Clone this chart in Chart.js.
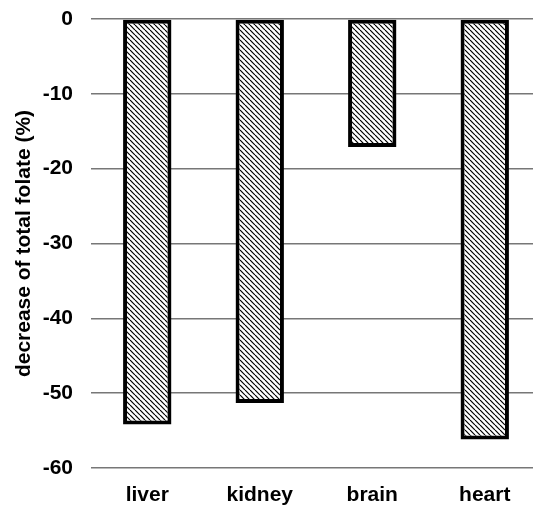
<!DOCTYPE html>
<html>
<head>
<meta charset="utf-8">
<script src="https://cdn.jsdelivr.net/npm/chart.js@4"></script>
<style>
  html, body { margin: 0; padding: 0; background: #fff; overflow: hidden; }
  #wrap { width: 541px; height: 509px; }
</style>
</head>
<body>
<div id="wrap"><canvas id="barChart"></canvas></div>
<script>
const organs = ['liver', 'kidney', 'brain', 'heart'];
const folateDecrease = [-54.2, -51.3, -17.1, -56.2];
const yMin = -60;
const yMax = 0;
const yStep = 10;

// backslash hatching like the original figure
function makeHatch() {
    const size = 5;
    const c = document.createElement('canvas');
    c.width = size;
    c.height = size;
    const g = c.getContext('2d');
    g.fillStyle = '#fff';
    g.fillRect(0, 0, size, size);
    g.strokeStyle = '#000';
    g.lineWidth = 1.2;
    for (const off of [-size, 0, size]) {
        g.beginPath();
        g.moveTo(off, 0);
        g.lineTo(off + size, size);
        g.stroke();
    }
    return g.createPattern(c, 'repeat');
}

const ctx = document.getElementById('barChart');

new Chart(ctx, {
    type: 'bar',
    data: {
        labels: organs,
        datasets: [{
            data: folateDecrease,
            backgroundColor: makeHatch(),
            borderColor: '#000',
            borderWidth: 4,
            borderSkipped: false,
            barPercentage: 0.43,
            categoryPercentage: 1
        }]
    },
    options: {
        responsive: true,
        maintainAspectRatio: false,
        animation: false,
        layout: { padding: { top: 19, right: 0, left: 0, bottom: 0 } },
        plugins: {
            legend: { display: false },
            tooltip: { enabled: false }
        },
        scales: {
            x: {
                grid: { display: false, drawTicks: false },
                border: { display: false },
                ticks: {
                    color: '#000',
                    padding: 15,
                    font: { family: 'Liberation Sans', size: 21, weight: 'bold' }
                },
                afterFit: (scale) => {
                    scale.height = 41;
                    scale.paddingLeft = 0;
                    scale.paddingRight = 0;
                }
            },
            y: {
                min: yMin,
                max: yMax,
                grid: { color: '#777', lineWidth: 1.5, drawTicks: false },
                border: { display: false },
                ticks: {
                    stepSize: yStep,
                    color: '#000',
                    padding: 18,
                    font: { family: 'Liberation Sans', size: 21, weight: 'bold' }
                },
                title: {
                    display: true,
                    text: 'decrease of total folate (%)',
                    color: '#000',
                    padding: { top: 12, bottom: 0 },
                    font: { family: 'Liberation Sans', size: 21, weight: 'bold' }
                },
                afterFit: (scale) => {
                    scale.width = 91;
                    scale.paddingTop = 0;
                    scale.paddingBottom = 0;
                }
            }
        }
    }
});
</script>
</body>
</html>
